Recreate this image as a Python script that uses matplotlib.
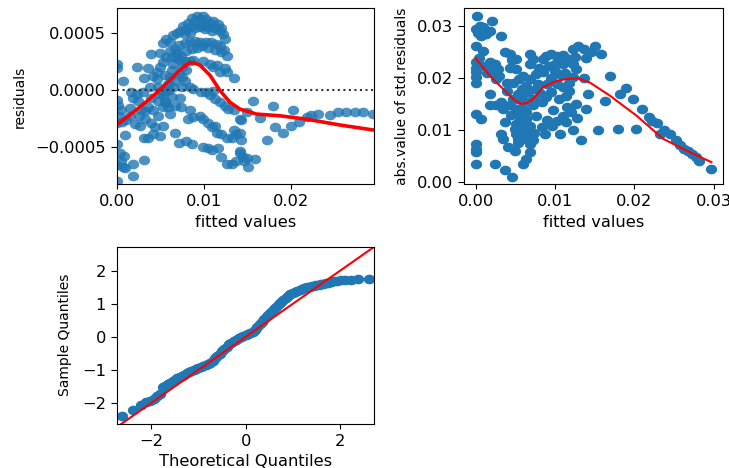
import numpy as np
import matplotlib
matplotlib.use("Agg")
import matplotlib.pyplot as plt
from matplotlib.path import Path

# ---------------- residuals vs fitted (x in 1e-3, y in 1e-4) ----------------
resid_fitted_e3 = [
    0.05, 0.1, 0.7, 0.1, 0.2, 0.5, 0.3, 0.1, 0.6, 1.0, 0.1, 0.4, 0.9, 0.5, 0.8, 0.1, 0.1,
    2.3, 1.7, 1.9, 2.3, 3.0, 1.6, 1.5, 1.1, 2.1, 2.6, 2.8, 1.9, 1.9, 1.0, 3.1, 3.2, 2.7, 3.3,
    3.2, 3.6, 4.0, 4.2, 3.8, 4.0, 3.6, 4.2, 4.0, 4.4, 4.2, 3.6, 5.0, 5.3, 4.8, 3.3, 2.5,
    4.6, 5.0, 5.3, 5.7, 5.0, 4.6, 4.8, 5.2, 5.3, 5.5, 5.7, 5.3, 4.8, 5.0, 5.7, 5.9, 6.1, 6.3,
    6.5, 6.3, 6.9, 7.3, 7.5, 7.1, 6.7, 6.5, 6.3, 5.9, 6.1, 6.7, 7.3, 7.5, 7.8, 7.5, 8.0, 7.8,
    8.4, 6.7, 7.1, 7.4, 6.0, 5.5,
    5.3, 5.7, 6.1, 6.5, 6.9, 7.3, 7.6, 8.0, 8.2, 8.6, 9.0, 9.2, 9.5, 9.9, 10.3, 10.7, 11.1,
    11.6, 10.5, 9.9, 9.5, 9.0, 8.6, 11.3, 11.8, 12.2, 12.4, 12.0, 10.9, 10.1, 8.4, 7.8,
    6.1, 6.7, 7.2, 7.8, 8.4, 9.0, 9.6, 10.2, 10.8, 11.4, 11.9, 12.3, 12.6, 12.0, 11.3, 10.5,
    9.8, 9.2, 8.6, 8.0, 7.4, 6.9,
    8.8, 9.9, 10.7, 11.5, 12.4, 13.4, 11.1, 11.8, 12.6,
    8.4, 8.8, 10.3, 10.7, 11.3, 11.8, 12.4, 12.8, 13.5, 14.1, 14.9, 9.7, 11.1,
    8.4, 8.8, 9.5, 9.9, 10.5, 10.9, 11.3, 11.5, 12.0, 12.6, 13.2, 13.7, 14.3, 8.2, 13.4, 14.1,
    8.0, 8.6, 9.9, 10.5, 10.9, 11.6, 12.0, 12.6, 13.2, 13.7, 14.1, 14.5, 14.6, 15.1, 14.9,
    15.8, 14.1,
    15.6, 17.9, 20.2, 14.3, 16.4, 18.1, 19.1, 20.0, 17.2, 20.9, 21.8, 22.3, 23.1, 24.4, 25.4,
    26.3, 27.3, 28.2, 29.4,
]
residuals_e4 = [
    2.3, 1.9, 0.8, -0.9, -1.3, -1.8, -2.3, -2.9, -2.8, -4.0, -4.8, -5.6, -5.8, -6.3, -6.8, -8.0, -6.6,
    2.0, -0.2, -0.7, -0.4, -0.2, -1.6, -2.3, -2.7, -3.0, -2.3, -1.8, -6.5, -7.6, -6.9, -6.2, -4.2, -3.2, -2.6,
    1.0, 1.9, 3.1, 1.2, 0.2, -0.7, -1.5, -1.8, -2.9, -3.3, -3.9, -4.2, -4.1, -3.2, -2.3, -1.9, -1.0,
    1.6, 2.0, 2.4, 2.9, 3.2, 0.9, 0.2, -0.1, -0.5, -1.0, -1.2, -1.5, -1.0, -0.4, -0.1, 0.5, 1.1, 1.7,
    2.3, 2.9, 3.2, 2.6, 2.0, 1.4, 0.8, 0.2, -0.6, -1.5, -2.1, -1.4, -0.7, 0.2, 0.8, 1.1, 1.7, 2.5,
    2.5, -3.8, -4.7, -1.5, 0.0, 1.3,
    4.1, 4.5, 4.2, 4.8, 5.0, 5.2, 5.6, 5.3, 5.9, 6.3, 6.0, 6.5, 6.2, 6.5, 6.2, 5.9, 6.0,
    5.8, 5.5, 5.7, 5.5, 5.4, 5.6, 5.4, 5.2, 4.9, 4.5, 5.4, 5.2, 5.3, 5.0, 4.9,
    3.4, 3.6, 3.9, 4.1, 4.2, 4.3, 4.2, 4.2, 4.2, 4.0, 3.8, 3.5, 3.0, 3.3, 3.5, 3.7,
    3.8, 3.7, 3.6, 3.4, 3.0, 2.8,
    2.6, 2.5, 2.3, 2.2, 1.9, 1.0, 2.0, 1.6, 1.6,
    0.2, 0.1, -0.2, -0.5, -0.8, -1.1, -1.4, -1.7, -1.8, -2.6, -2.0, -0.2, -0.1,
    -1.8, -2.4, -2.3, -2.6, -2.9, -3.3, -3.2, -3.8, -3.9, -4.2, -4.2, -3.9, -4.4, -2.6, -3.5, -3.8,
    -4.5, -4.8, -5.0, -5.1, -5.3, -5.1, -5.9, -6.5, -6.5, -6.3, -5.6, -5.9, -6.3, -6.8, -6.0,
    -6.1, -5.4,
    -1.0, -1.4, -1.8, -2.7, -2.5, -3.3, -3.8, -3.2, -4.4, -2.8, -2.4, -2.2, -2.1, -2.2, -2.0,
    -2.0, -2.0, -2.0, -2.1,
]
# smoothed trend through the residuals
resid_trend_x_e3 = [0.0, 1.91, 3.82, 5.73, 7.25, 8.0, 8.4, 8.9, 9.54, 10.69, 11.83, 12.98,
                    14.12, 16.03, 18.70, 21.76, 25.57, 29.39]
resid_trend_y_e4 = [-3.10, -1.99, -0.80, 0.54, 1.73, 2.20, 2.38, 2.35, 2.17, 1.28, -0.06,
                    -1.10, -1.70, -2.14, -2.29, -2.59, -3.10, -3.54]

# ---------------- scale-location (x and y in 1e-3) ----------------
scale_fitted_e3 = [
    0.2, 0.0, 0.3, 0.5, 0.9, 0.7, 0.1, 0.9, 0.0, 0.0, 0.0, 0.0, 0.0, 0.1, 0.7, 0.0, 0.0, 0.0,
    0.0, 2.0, 1.8, 3.2, 1.3, 0.4,
    1.1, 1.8, 2.4, 2.0, 2.8, 2.6, 3.7, 4.3, 4.6, 1.8, 1.8, 2.6, 3.2, 3.4, 3.7, 3.2, 3.4, 4.1,
    4.9, 2.4, 3.7, 4.6, 6.0, 6.8, 6.4, 3.9, 4.7, 4.3, 5.1, 5.1, 3.0, 1.4,
    5.8, 5.3, 4.7, 4.3, 5.1, 6.0, 6.6, 7.2, 7.6, 6.8, 7.6, 8.5, 9.3, 6.8, 7.2, 6.8, 8.5, 8.9,
    9.5, 5.5, 6.0, 6.4, 5.8, 5.1, 6.0, 6.4, 5.8, 6.8, 6.4, 5.8, 6.8, 7.6, 7.2, 6.4, 5.5, 5.1,
    4.9, 5.1, 6.0, 5.3, 6.4, 7.2, 7.4, 8.3, 8.7, 9.6, 8.9, 8.3, 9.5, 7.9, 8.1, 4.5, 4.0, 5.3,
    6.9,
    10.2, 10.4, 11.0, 11.8, 12.3, 12.7, 12.3, 11.8, 11.8, 11.4, 11.0, 10.2, 10.2, 10.6, 11.0,
    11.4, 12.3, 12.7, 13.3, 13.9, 14.2, 13.7, 12.3, 12.9, 13.7, 13.9, 15.0, 15.8, 10.0, 10.8,
    9.5, 9.0, 11.2, 12.0, 11.5, 12.8, 10.5, 9.8, 9.0, 10.0, 11.0, 14.5, 12.5, 8.0,
    15.4, 16.3, 16.9, 17.9, 18.2, 19.0, 19.8, 20.2, 20.9, 21.9, 22.8, 23.2, 24.5, 25.3, 26.3,
    27.2, 28.2, 29.7, 22.2, 23.7, 25.8, 26.8, 27.8,
]
scale_absres_e3 = [
    32.0, 29.5, 28.8, 30.1, 29.8, 28.2, 26.3, 25.3, 23.1, 22.1, 21.2, 20.2, 19.2, 13.2, 12.2,
    7.4, 6.5, 5.8, 3.6, 31.1, 29.1, 28.2, 28.5, 24.0,
    22.4, 23.1, 22.7, 21.5, 21.8, 19.9, 25.0, 24.7, 23.5, 17.0, 14.8, 14.8, 15.4, 14.1, 11.6,
    9.3, 8.4, 6.8, 6.1, 3.6, 2.3, 1.0, 3.6, 5.8, 4.5, 19.2, 19.2, 22.1, 21.8, 23.7, 20.5, 21.0,
    18.0, 17.0, 16.0, 14.8, 14.1, 15.4, 17.3, 16.0, 18.0, 19.9, 20.8, 21.2, 22.4, 22.7, 23.7,
    24.7, 23.7, 24.3, 24.7, 19.9, 20.5, 18.6, 16.0, 16.0, 14.1, 12.2, 11.2, 10.9, 10.0, 9.6,
    9.3, 12.8, 14.8, 13.5, 12.8, 11.2, 10.3, 9.3, 9.0, 8.4, 8.4, 8.1, 9.6, 10.6, 9.3, 10.9,
    16.4, 15.4, 17.3, 19.0, 17.2, 13.0, 17.5, 7.6, 7.3,
    24.3, 23.4, 22.7, 23.7, 22.7, 21.8, 20.2, 19.2, 17.6, 16.7, 18.3, 18.9, 11.9, 9.3, 12.8,
    11.6, 10.0, 15.1, 8.1, 14.1, 17.0, 20.0, 25.6, 26.3, 25.6, 24.0, 26.3, 24.7, 21.5, 20.6,
    20.0, 19.0, 21.0, 13.5, 14.5, 12.3, 16.0, 14.0, 12.0, 22.8, 24.5, 25.0, 24.2, 22.0,
    10.0, 15.7, 20.4, 10.3, 17.0, 18.1, 16.0, 10.3, 14.1, 12.5, 11.4, 9.3, 9.3, 8.1, 6.5,
    5.5, 4.2, 2.6, 11.8, 10.0, 7.2, 6.0, 4.8,
]
scale_trend_x_e3 = [0.0, 1.8, 3.9, 5.0, 5.8, 6.5, 7.2, 8.5, 10.0, 11.4, 12.9, 14.4, 16.9,
                    20.3, 23.6, 27.0, 29.7]
scale_trend_y_e3 = [23.8, 20.5, 17.3, 15.7, 15.1, 15.3, 16.0, 18.3, 19.4, 19.9, 20.0, 19.2,
                    16.7, 12.8, 8.4, 5.8, 3.9]

# ---------------- normal Q-Q ----------------
qq_theoretical = [
    -2.63, -2.38, -2.23, -2.11, -2.02, -1.94, -1.87, -1.81, -1.76, -1.70, -1.65, -1.60,
    -1.55, -1.50, -1.45, -1.40, -1.35, -1.30, -1.25, -1.20, -1.15, -1.10, -1.05, -1.00,
    -0.95, -0.90, -0.85, -0.80, -0.75, -0.70, -0.65, -0.60, -0.55, -0.50, -0.45, -0.40,
    -0.35, -0.30, -0.25, -0.20, -0.15, -0.10, -0.05, 0.00, 0.05, 0.10, 0.15, 0.20, 0.25,
    0.30, 0.35, 0.40, 0.45, 0.50, 0.55, 0.60, 0.65, 0.70, 0.75, 0.80, 0.85, 0.90, 0.95,
    1.00, 1.05, 1.10, 1.15, 1.20, 1.25, 1.30, 1.35, 1.40, 1.45, 1.50, 1.55, 1.60, 1.65,
    1.70, 1.76, 1.81, 1.87, 1.94, 2.02, 2.11, 2.23, 2.38, 2.63,
]
qq_sample = [
    -2.40, -2.22, -2.05, -1.98, -1.95, -1.88, -1.80, -1.74, -1.52, -1.48, -1.43, -1.39,
    -1.35, -1.30, -1.26, -1.22, -1.18, -1.14, -1.10, -1.07, -1.04, -1.00, -0.97, -0.94,
    -0.91, -0.88, -0.85, -0.82, -0.78, -0.72, -0.65, -0.58, -0.51, -0.44, -0.38, -0.30,
    -0.23, -0.17, -0.12, -0.08, -0.04, -0.01, 0.02, 0.05, 0.08, 0.11, 0.16, 0.22, 0.30,
    0.38, 0.46, 0.54, 0.62, 0.69, 0.76, 0.84, 0.92, 0.99, 1.06, 1.12, 1.18, 1.24, 1.29,
    1.33, 1.37, 1.40, 1.43, 1.46, 1.48, 1.50, 1.52, 1.53, 1.55, 1.56, 1.58, 1.59, 1.60,
    1.62, 1.64, 1.66, 1.68, 1.69, 1.71, 1.72, 1.73, 1.74, 1.77,
]

C0 = "#1f77b4"
W, H = 729, 468
STRETCH = 1.17          # the layout is wider than it is tall
FS_H = 10 * STRETCH     # horizontal text
FS_V = 10               # rotated axis labels

plt.rcParams.update({
    "xtick.labelsize": FS_H,
    "ytick.labelsize": FS_H,
    "axes.labelsize": FS_H,
    "ytick.major.size": 3.5 * STRETCH,
})

fig = plt.figure(figsize=(W / 100, H / 100), dpi=100)

def rect(left, top, right, bottom):
    return [left / W, 1 - bottom / H, (right - left) / W, (bottom - top) / H]

# slightly wide dot
_t = np.linspace(0, 2 * np.pi, 64)
DOT_MARKER = Path(np.column_stack([STRETCH * np.cos(_t), np.sin(_t)]), closed=True)
DOT = 66

# residuals vs fitted
ax1 = fig.add_axes(rect(116.5, 8.5, 374, 184.5))
fx = np.array(resid_fitted_e3) * 1e-3
ry = np.array(residuals_e4) * 1e-4
ax1.scatter(fx, ry, s=DOT, marker=DOT_MARKER, color=C0, alpha=0.8, linewidths=0)
ax1.axhline(0, ls=":", c=".2", lw=1.5)
ax1.plot(np.array(resid_trend_x_e3) * 1e-3, np.array(resid_trend_y_e4) * 1e-4,
         color="red", lw=2.6, solid_capstyle="round")
ax1.set_xlim(0, 0.02947)
ax1.set_ylim(-0.000833, 0.000714)
ax1.set_xticks([0.0, 0.01, 0.02])
ax1.set_yticks([-0.0005, 0.0, 0.0005])
ax1.set_xlabel("fitted values")
ax1.set_ylabel("residuals", fontsize=FS_V, labelpad=6)

# scale-location
ax2 = fig.add_axes(rect(464, 8.5, 722.5, 184.5))
sx = np.array(scale_fitted_e3) * 1e-3
sy = np.array(scale_absres_e3) * 1e-3
ax2.scatter(sx, sy, s=DOT, marker=DOT_MARKER, color=C0, linewidths=0)
ax2.plot(np.array(scale_trend_x_e3) * 1e-3, np.array(scale_trend_y_e3) * 1e-3,
         color="red", lw=1.5)
ax2.set_xlim(-0.00147, 0.0311)
ax2.set_ylim(-0.0004, 0.03345)
ax2.set_xticks([0.0, 0.01, 0.02, 0.03])
ax2.set_yticks([0.0, 0.01, 0.02, 0.03])
ax2.set_xlabel("fitted values")
ax2.set_ylabel("abs.value of std.residuals", fontsize=FS_V, labelpad=6)

# normal Q-Q
ax3 = fig.add_axes(rect(116.5, 246.5, 374, 424))
ax3.scatter(qq_theoretical, qq_sample, s=DOT, marker=DOT_MARKER, color=C0, linewidths=0)
ax3.set_xlim(-2.74, 2.726)
ax3.set_ylim(-2.64, 2.74)
ax3.axline((0, 0), slope=1, color="red", lw=1.5)
ax3.set_xticks([-2, 0, 2])
ax3.set_yticks([-2, -1, 0, 1, 2])
ax3.set_xlabel("Theoretical Quantiles")
ax3.set_ylabel("Sample Quantiles", fontsize=FS_V, labelpad=7)

fig.savefig("out.png", dpi=100)
